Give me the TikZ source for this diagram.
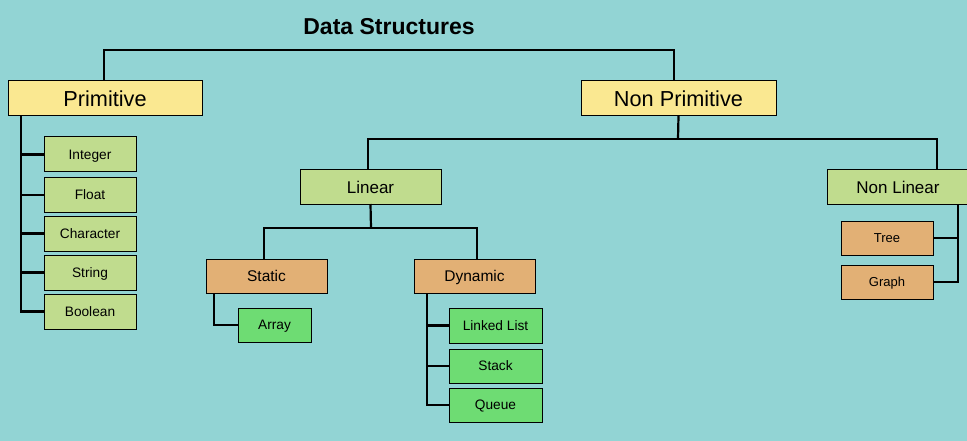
\documentclass[tikz,border=0pt]{standalone}
\usepackage{fontspec}
\setmainfont{Liberation Sans}
\definecolor{bgc}{RGB}{146,212,212}
\definecolor{yel}{RGB}{250,232,145}
\definecolor{lgr}{RGB}{192,220,142}
\definecolor{org}{RGB}{226,176,117}
\definecolor{bgr}{RGB}{110,220,115}
\tikzset{
  box/.style={draw=black, line width=1pt, inner sep=0pt, outer sep=0pt, align=center, text depth=0pt},
  lvlone/.style={box, fill=yel, minimum height=35pt, font=\fontsize{21.7}{26}\selectfont},
  lvltwo/.style={box, fill=lgr, minimum width=141pt, minimum height=34pt, font=\fontsize{17}{20}\selectfont},
  lvlthree/.style={box, fill=org, minimum width=121pt, minimum height=34pt, font=\fontsize{15.5}{19}\selectfont},
  leafp/.style={box, fill=lgr, minimum width=92pt, minimum height=34pt, font=\fontsize{13.7}{16}\selectfont},
  leafo/.style={box, fill=org, minimum width=92pt, minimum height=34pt, font=\fontsize{13}{16}\selectfont},
  leafg/.style={box, fill=bgr, minimum width=93pt, minimum height=34pt, font=\fontsize{13.7}{16}\selectfont},
  conn/.style={draw=black, line width=1.6pt},
  trunk/.style={draw=black, line width=2.2pt},
}
\begin{document}
\begin{tikzpicture}[x=1pt, y=-1pt]
\fill[bgc] (0,0) rectangle (967,441);
\useasboundingbox (0,0) rectangle (967,441);
\clip (0,0) rectangle (967,441);

\node[font=\bfseries\fontsize{23}{27}\selectfont] (title) at (389,27) {Data Structures};

\node[lvlone, minimum width=194pt] (prim) at (105,98.5) {Primitive};
\node[lvlone, minimum width=195pt] (np) at (678.5,98.5) {Non Primitive};

\node[lvltwo] (lin) at (370.5,187) {Linear};
\node[lvltwo, minimum width=142pt] (nl) at (898,187) {Non Linear};

\node[lvlthree] (stat) at (266.5,276) {Static};
\node[lvlthree] (dyn) at (474.5,276) {Dynamic};

\node[leafg, minimum width=73pt] (arr) at (274.5,325) {Array};
\node[leafg, minimum height=35pt] (ll) at (495.5,325.5) {Linked List};
\node[leafg] (stk) at (495.5,366) {Stack};
\node[leafg] (que) at (495.5,405) {Queue};

\node[leafp, minimum height=35pt] (int) at (90,154.5) {Integer};
\node[leafp] (flt) at (90,195) {Float};
\node[leafp, minimum height=35pt] (chr) at (90,233.5) {Character};
\node[leafp, minimum height=35pt] (str) at (90,272.5) {String};
\node[leafp, minimum height=35pt] (boo) at (90,311.5) {Boolean};

\node[leafo] (tree) at (887,238) {Tree};
\node[leafo] (graph) at (887,282) {Graph};

% connectors
\coordinate (topbar) at (389,50);
\draw[conn] ([xshift=-1pt]prim.north) |- (topbar) -| ([xshift=-4.5pt]np.north);

\coordinate (npbar) at (678,139);
\draw[trunk] (np.south) -- (npbar);
\draw[conn] ([xshift=-2.5pt]lin.north) |- (npbar) -| ([xshift=39pt]nl.north);

\coordinate (linbar) at (371,228);
\draw[trunk] (lin.south) -- (linbar);
\draw[conn] ([xshift=-2.5pt]stat.north) |- (linbar) -| ([xshift=2.5pt]dyn.north);

\draw[trunk] ([xshift=-52.5pt]stat.south) |- (arr.west);

\draw[trunk] ([xshift=-47.5pt]dyn.south) |- (que.west);
\draw[trunk] ([xshift=-47.5pt]dyn.south) |- (stk.west);
\draw[trunk] ([xshift=-47.5pt]dyn.south) |- (ll.west);

\draw[trunk] ([xshift=-84pt]prim.south) |- (boo.west);
\draw[trunk] ([xshift=-84pt]prim.south) |- (str.west);
\draw[trunk] ([xshift=-84pt]prim.south) |- (chr.west);
\draw[trunk] ([xshift=-84pt]prim.south) |- (flt.west);
\draw[trunk] ([xshift=-84pt]prim.south) |- (int.west);

\draw[trunk] ([xshift=60pt]nl.south) |- (graph.east);
\draw[trunk] ([xshift=60pt]nl.south) |- (tree.east);
\end{tikzpicture}
\end{document}
